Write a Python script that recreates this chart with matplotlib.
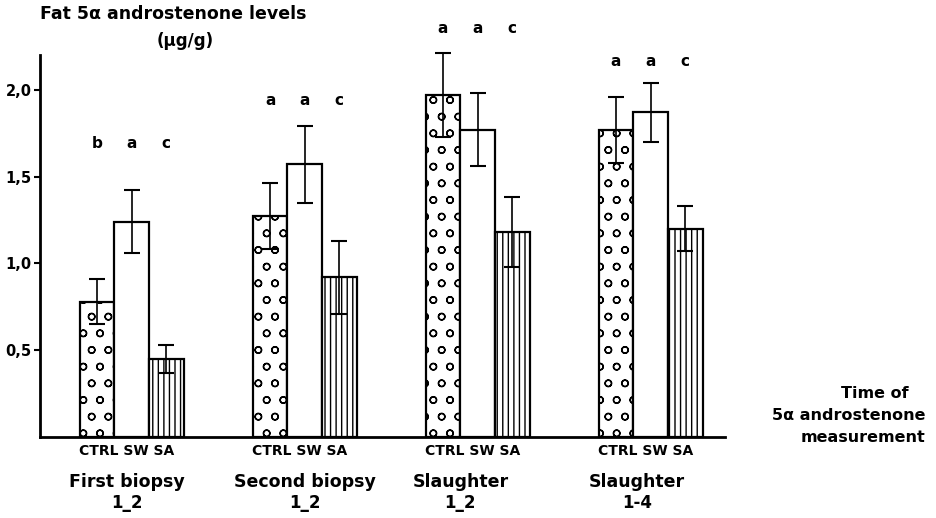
import numpy as np
import matplotlib
matplotlib.use('Agg')
import matplotlib.pyplot as plt

# data
groups = ['First biopsy\n1_2', 'Second biopsy\n1_2', 'Slaughter\n1_2', 'Slaughter\n1-4']
treatments = ['CTRL', 'SW', 'SA']
means = {
    'CTRL': [0.78, 1.27, 1.97, 1.77],
    'SW':   [1.24, 1.57, 1.77, 1.87],
    'SA':   [0.45, 0.92, 1.18, 1.20],
}
errs = {
    'CTRL': [0.13, 0.19, 0.24, 0.19],
    'SW':   [0.18, 0.22, 0.21, 0.17],
    'SA':   [0.08, 0.21, 0.20, 0.13],
}
letters = [['b', 'a', 'c'], ['a', 'a', 'c'], ['a', 'a', 'c'], ['a', 'a', 'c']]
letter_y = [1.69, 1.94, 2.35, 2.16]
yticks = [0.5, 1.0, 1.5, 2.0]
ytick_labels = ['0,5', '1,0', '1,5', '2,0']

plt.rcParams['hatch.linewidth'] = 1.0
plt.rcParams['font.family'] = 'DejaVu Sans'

fig = plt.figure(figsize=(9.36, 5.18), dpi=100)
ax = fig.add_axes([40/936, 81/518, 685/936, 382/518])

width = 0.2
x = np.arange(len(groups))
hatches = {'CTRL': 'o', 'SW': '', 'SA': '|||'}
offsets = {'CTRL': -width, 'SW': 0.0, 'SA': width}

for t in treatments:
    ax.bar(x + offsets[t], means[t], width=width, color='white', edgecolor='black',
           linewidth=1.6, hatch=hatches[t], zorder=2)
    eb = ax.errorbar(x + offsets[t], means[t], yerr=errs[t], fmt='none', ecolor='black',
                     elinewidth=1.2, capsize=6, capthick=1.5, zorder=3)
    for art in eb.lines[1] + eb.lines[2]:
        art.set_clip_on(False)

for i, labs in enumerate(letters):
    for j, t in enumerate(treatments):
        ax.text(x[i] + offsets[t], letter_y[i], labs[j], ha='center', va='center',
                fontsize=11, fontweight='bold', clip_on=False)

ax.set_xlim(-0.53, 3.43)
ax.set_ylim(0, 2.2)
ax.set_yticks(yticks)
ax.set_yticklabels(ytick_labels, fontsize=10.5, fontweight='bold')
ax.tick_params(axis='y', direction='out', length=4, width=1.5, pad=2)
ax.set_xticks([])
for s in ['top', 'right']:
    ax.spines[s].set_visible(False)
for s in ['left', 'bottom']:
    ax.spines[s].set_linewidth(2)

# treatment labels under each group
for i in range(len(groups)):
    ax.text(x[i] - 0.03, -0.08, 'CTRL SW SA', ha='center', va='center', fontsize=10,
            fontweight='bold', clip_on=False)

group_x = [-0.03, 1.0, 1.9, 2.92]
for i, g in enumerate(groups):
    name, num = g.split('\n')
    ax.text(group_x[i], -0.26, name, ha='center', va='center', fontsize=12.5,
            fontweight='bold', clip_on=False)
    ax.text(group_x[i], -0.38, num, ha='center', va='center', fontsize=12,
            fontweight='bold', clip_on=False)

fig.text(40/936, 1 - 14/518, 'Fat 5\u03b1 androstenone levels', ha='left', va='center',
         fontsize=12.5, fontweight='bold')
fig.text(185/936, 1 - 41/518, '(\u03bcg/g)', ha='center', va='center',
         fontsize=12, fontweight='bold')

fig.text(875/936, 1 - 394/518, 'Time of', ha='center', va='center', fontsize=11.5, fontweight='bold')
fig.text(925/936, 1 - 415/518, '5\u03b1 androstenone', ha='right', va='center', fontsize=11.5, fontweight='bold')
fig.text(925/936, 1 - 437/518, 'measurement', ha='right', va='center', fontsize=11.5, fontweight='bold')

fig.savefig('out.png', dpi=100, facecolor='white')
